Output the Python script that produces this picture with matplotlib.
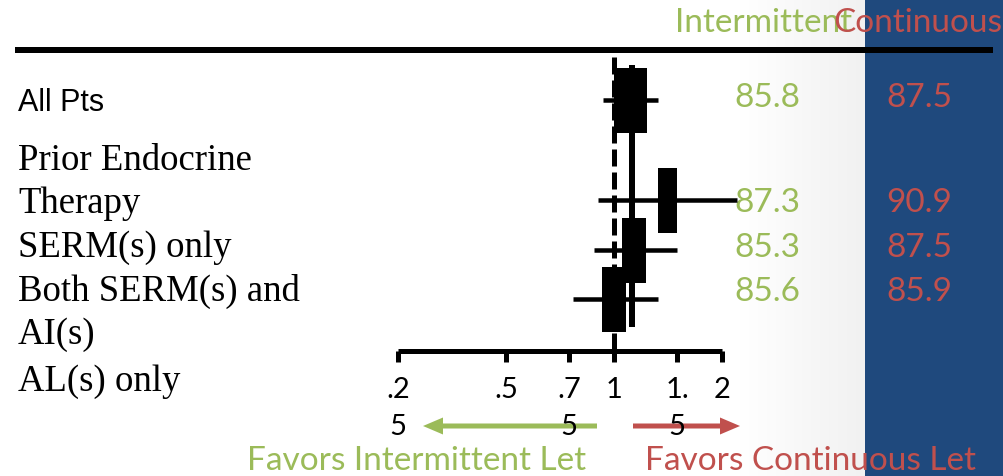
import numpy as np
import matplotlib
matplotlib.use("Agg")
import matplotlib.pyplot as plt
from matplotlib.ticker import FixedLocator, NullLocator, FixedFormatter

# ---------------- data ----------------
left_labels = ["All Pts", "Prior Endocrine", "Therapy", "SERM(s) only",
               "Both SERM(s) and", "AI(s)", "AL(s) only"]
hr = [1.11, 1.41, 1.14, 1.00]
ci_lo = [0.93, 0.90, 0.88, 0.77]
ci_hi = [1.33, 2.20, 1.50, 1.33]
overall_hr = 1.12
intermittent = [85.8, 87.3, 85.3, 85.6]
continuous = [87.5, 90.9, 87.5, 85.9]
tick_values = [0.25, 0.5, 0.75, 1, 1.5, 2]
tick_labels = [".2\n5", ".5", ".7\n5", "1", "1.\n5", "2"]
header_left = "Intermittent"
header_right = "Continuous"
favors_left = "Favors Intermittent Let"
favors_right = "Favors Continuous Let"

# ---------------- style / layout ----------------
GREEN = "#9BBB59"
RED = "#C0504D"
BLUE = "#1F497D"
W, H = 1004, 476
PX = 72 / 100  # points per pixel
row_y = [100, 200, 250, 299]           # pixel rows of forest marks
box_w = [0.305, 0.176, 0.222, 0.222]   # box widths (log2 units)
box_h = 65
label_base = [111, 170, 213, 257, 301, 344, 391]
num_y = [98, 203, 248, 292]

fig = plt.figure(figsize=(W / 100, H / 100), dpi=100)
fig.patch.set_facecolor("white")

# background axes in pixel coordinates
bg = fig.add_axes([0, 0, 1, 1])
bg.set_xlim(0, W)
bg.set_ylim(H, 0)
bg.axis("off")
grad = np.linspace(1.0, 0.945, 200)
img = np.dstack([grad, grad, grad]).repeat(2, axis=0)
bg.imshow(img, extent=[740, 865, H, 0], aspect="auto", zorder=0)
bg.add_patch(plt.Rectangle((865, 0), W - 865, H, color=BLUE, zorder=1, lw=0))
bg.set_xlim(0, W)
bg.set_ylim(H, 0)

# top rule
bg.plot([15, 993], [50, 50], color="black", lw=6 * PX, solid_capstyle="butt", zorder=3)

# headers (overlapping as in the reference slide)
calibri = ["Lato", "DejaVu Sans"]
bg.text(675, 23, header_left, color=GREEN, fontsize=24, family=calibri,
        ha="left", va="center", zorder=4)
bg.text(833, 23, header_right, color=RED, fontsize=24, family=calibri,
        ha="left", va="center", zorder=5)

# left labels
for i, (lab, yb) in enumerate(zip(left_labels, label_base)):
    if i == 0:
        bg.text(18, yb, lab, fontsize=22, family=["Liberation Sans", "DejaVu Sans"],
                ha="left", va="baseline", color="black", zorder=4)
    else:
        bg.text(18, yb, lab, fontsize=26.5, family=["Liberation Serif", "DejaVu Serif"],
                ha="left", va="baseline", color="black", zorder=4)

# numbers
for v, y in zip(intermittent, num_y):
    bg.text(734, y, f"{v:.1f}", color=GREEN, fontsize=24, family=calibri,
            ha="left", va="center", zorder=4)
for v, y in zip(continuous, num_y):
    bg.text(886, y, f"{v:.1f}", color=RED, fontsize=24, family=calibri,
            ha="left", va="center", zorder=4)

# arrows and favors text
bg.arrow(597, 426, -174, 0, width=5, head_width=17, head_length=20,
         length_includes_head=True, color=GREEN, lw=0, zorder=3)
bg.arrow(633, 426, 107, 0, width=5, head_width=17, head_length=20,
         length_includes_head=True, color=RED, lw=0, zorder=3)
bg.text(247, 470, favors_left, color=GREEN, fontsize=24, family=calibri,
        ha="left", va="baseline", zorder=4)
bg.text(645, 470, favors_right, color=RED, fontsize=24, family=calibri,
        ha="left", va="baseline", zorder=4)

# ---------------- forest axes ----------------
x0, x1, y_top, y_axis = 398, 722, 47, 351
ax = fig.add_axes([x0 / W, (H - y_axis) / H, (x1 - x0) / W, (y_axis - y_top) / H])
ax.patch.set_visible(False)
ax.set_xscale("log")
ax.set_xlim(0.25, 2)
ax.set_ylim(y_axis, y_top)
for s in ["top", "left", "right"]:
    ax.spines[s].set_visible(False)
ax.spines["bottom"].set_linewidth(5 * PX)
ax.spines["bottom"].set_capstyle("butt")
ax.xaxis.set_major_locator(FixedLocator(tick_values))
ax.xaxis.set_major_formatter(FixedFormatter(tick_labels))
ax.xaxis.set_minor_locator(NullLocator())
ax.tick_params(axis="x", direction="out", length=11 * PX, width=5 * PX,
               pad=11, labelsize=21, labelcolor="black")
for t in ax.get_xticklabels():
    t.set_family(calibri)
    t.set_linespacing(1.5)
    t.set_verticalalignment("top")
ax.set_yticks([])

# reference dashed line at HR = 1
ax.plot([1, 1], [57, y_axis], color="black", lw=5 * PX, dashes=(3.4, 1.2),
        clip_on=False, zorder=2)
# overall estimate line
ax.plot([overall_hr, overall_hr], [65, 327], color="black", lw=6 * PX,
        solid_capstyle="butt", clip_on=False, zorder=2)

# CIs and boxes
ax.hlines(row_y, ci_lo, ci_hi, color="black", lw=4.5 * PX, clip_on=False, zorder=3)
for h, y, w in zip(hr, row_y, box_w):
    left = h * 2 ** (-w / 2)
    right = h * 2 ** (w / 2)
    ax.barh(y, right - left, left=left, height=box_h, color="black", zorder=4,
            clip_on=False)

fig.savefig("out.png", dpi=100, facecolor="white")
